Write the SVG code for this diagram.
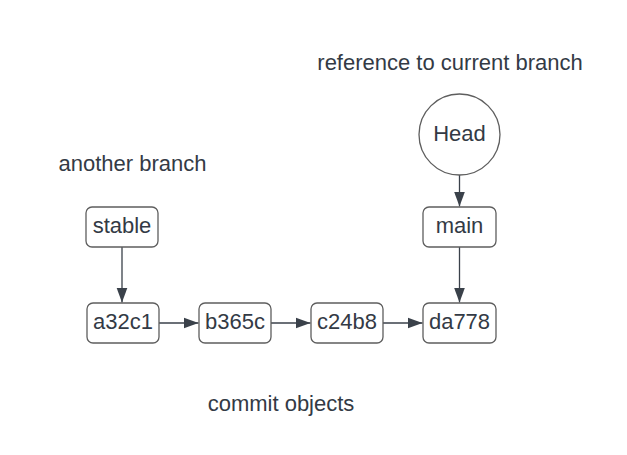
<svg xmlns="http://www.w3.org/2000/svg" width="627" height="455" viewBox="0 0 627 455">
<style>
.n{fill:#fff;stroke:#5e5e5e;stroke-width:1.3}
.t{font-family:"Liberation Sans",Arial,sans-serif;font-size:22px;fill:#333a45;text-anchor:middle;dominant-baseline:central}
.c{stroke:#3a414a;stroke-width:1.3;fill:none;marker-end:url(#a)}
</style>
<defs>
<marker id="a" viewBox="0 0 15 12" refX="15" refY="6" markerWidth="15" markerHeight="12" markerUnits="userSpaceOnUse" orient="auto">
<path d="M0,0.5 L15,6 L0,11.5 Z" fill="#3a414a"/>
</marker>
</defs>
<rect width="627" height="455" fill="#fff"/>
<text class="t" x="450" y="62">reference to current branch</text>
<text class="t" x="132.5" y="163">another branch</text>
<text class="t" x="281" y="403">commit objects</text>
<g id="connectors">
<path class="c" d="M122,247 V302.5"/>
<path class="c" d="M159,323 H198.5"/>
<path class="c" d="M271,323 H310.5"/>
<path class="c" d="M383,323 H422.5"/>
<path class="c" d="M459.5,175 V206.5"/>
<path class="c" d="M459.5,247 V302.5"/>
</g>
<g id="head"><circle class="n" cx="459.5" cy="134.5" r="40.5"/><text class="t" x="459.5" y="133">Head</text></g>
<g id="stable"><rect class="n" x="86" y="207" width="72" height="40" rx="6"/><text class="t" x="122" y="225">stable</text></g>
<g id="main"><rect class="n" x="423" y="207" width="73" height="40" rx="6"/><text class="t" x="459.5" y="225">main</text></g>
<g id="a32c1"><rect class="n" x="87" y="303" width="72" height="40" rx="6"/><text class="t" x="123" y="321.5">a32c1</text></g>
<g id="b365c"><rect class="n" x="199" y="303" width="72" height="40" rx="6"/><text class="t" x="235" y="321.5">b365c</text></g>
<g id="c24b8"><rect class="n" x="311" y="303" width="72" height="40" rx="6"/><text class="t" x="347" y="321.5">c24b8</text></g>
<g id="da778"><rect class="n" x="423" y="303" width="73" height="40" rx="6"/><text class="t" x="459.5" y="321.5">da778</text></g>
</svg>
